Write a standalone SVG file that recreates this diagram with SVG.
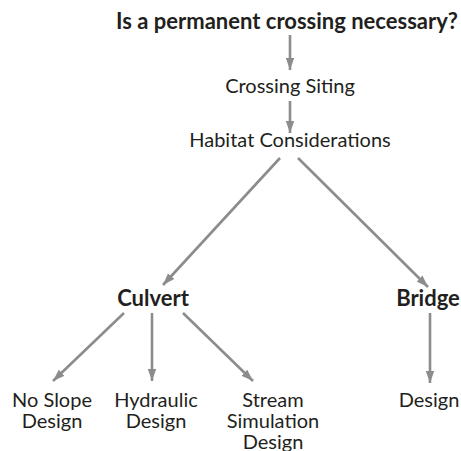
<svg xmlns="http://www.w3.org/2000/svg" width="461" height="451" viewBox="0 0 461 451">
<style>
text{font-family:Lato,"Open Sans","Liberation Sans",sans-serif;font-size:20px;fill:#231f20;text-anchor:middle}
.b{font-weight:bold;font-size:22px}
.c line{stroke:#8c8c8c;stroke-width:2.6;marker-end:url(#ah)}
</style>
<defs>
<marker id="ah" markerUnits="userSpaceOnUse" markerWidth="14" markerHeight="12" viewBox="0 0 14 12" refX="12" refY="6" orient="auto">
<path d="M0,1.8 L12,6 L0,10.2 Z" fill="#8c8c8c"/>
</marker>
</defs>
<rect width="461" height="451" fill="#fff"/>
<g class="c" id="connectors">
<line x1="290" y1="35" x2="290" y2="70"/>
<line x1="290" y1="101" x2="290" y2="133"/>
<line x1="280" y1="158" x2="163" y2="285"/>
<line x1="298" y1="158" x2="428" y2="287"/>
<line x1="124" y1="313" x2="53" y2="381"/>
<line x1="152" y1="313" x2="152" y2="381"/>
<line x1="183" y1="313" x2="253" y2="381"/>
<line x1="430" y1="313" x2="430" y2="383"/>
</g>
<g id="n-question"><text class="b" x="287" y="29">Is a permanent crossing necessary?</text></g>
<g id="n-siting"><text x="290" y="93">Crossing Siting</text></g>
<g id="n-habitat"><text x="290" y="147">Habitat Considerations</text></g>
<g id="n-culvert"><text class="b" x="153" y="306">Culvert</text></g>
<g id="n-bridge"><text class="b" x="428" y="306">Bridge</text></g>
<g id="n-noslope"><text x="52" y="407">No Slope</text><text x="52" y="428">Design</text></g>
<g id="n-hydraulic"><text x="156" y="407">Hydraulic</text><text x="156" y="428">Design</text></g>
<g id="n-stream"><text x="273" y="407">Stream</text><text x="273" y="428">Simulation</text><text x="273" y="449">Design</text></g>
<g id="n-design"><text x="429" y="407">Design</text></g>
</svg>
